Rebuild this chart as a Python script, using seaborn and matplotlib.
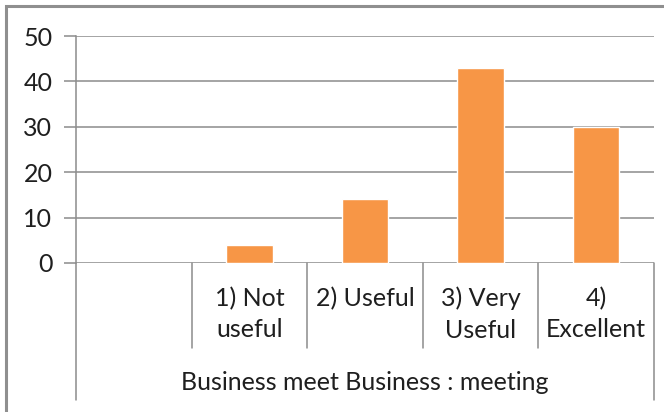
import numpy as np
import pandas as pd
import seaborn as sns
import matplotlib.pyplot as plt
from matplotlib.patches import Rectangle
from matplotlib.lines import Line2D

categories = ["", "1) Not\nuseful", "2) Useful", "3) Very\nUseful", "4)\nExcellent"]
rated = ["1) Not\nuseful", "2) Useful", "3) Very\nUseful", "4)\nExcellent"]
counts = [4, 14, 43, 30]
group_label = "Business meet Business : meeting"
y_ticks = [0, 10, 20, 30, 40, 50]

sns.set_theme(style="white")
plt.rcParams["font.family"] = ["Lato", "DejaVu Sans"]

W, H = 664, 412
fig = plt.figure(figsize=(W / 100, H / 100), dpi=100)
ax = fig.add_axes([76 / W, 149 / H, (654 - 76) / W, 227 / H])

df = pd.DataFrame({"rating": rated, "count": counts})
sns.barplot(data=df, x="rating", y="count", order=categories,
            color="#F79646", saturation=1, width=0.4, ax=ax)

grid_c = "#8C8C8C"
text_c = "#1F1F1F"
fs = 18
ax.set_ylim(0, 50)
ax.set_xlim(-0.5, len(categories) - 0.5)
ax.set_yticks(y_ticks)
ax.set_xticks(range(len(categories)), categories, linespacing=1.45)
ax.set_axisbelow(True)
ax.yaxis.grid(True, color=grid_c, linewidth=1.1)
ax.tick_params(axis="y", length=9, width=1.1, color=grid_c, pad=8,
               labelsize=fs, labelcolor=text_c, left=True)
ax.tick_params(axis="x", length=0, labelsize=fs, labelcolor=text_c, pad=17)
ax.set_xlabel("")
ax.set_ylabel("")
for s in ["top", "right", "bottom"]:
    ax.spines[s].set_visible(False)
ax.spines["left"].set_color(grid_c)
ax.spines["left"].set_linewidth(1.1)

# category separators below the zero line
tr = ax.get_xaxis_transform()
inner_bottom = -85 / 227
outer_bottom = -137 / 227
for i in range(1, len(categories)):
    xb = i - 0.5
    ax.add_line(Line2D([xb, xb], [0, inner_bottom], transform=tr,
                       color=grid_c, lw=1.1, clip_on=False))
for xb in [-0.5, len(categories) - 0.5]:
    ax.add_line(Line2D([xb, xb], [0, outer_bottom], transform=tr,
                       color=grid_c, lw=1.1, clip_on=False))

# outer group label
ax.text((len(categories) - 1) / 2, -119 / 227, group_label, transform=tr,
        ha="center", va="center", fontsize=fs, color=text_c)

# chart frame
fig.patches.append(Rectangle((6 / W, -0.2), 1.2, (406 / H) + 0.2,
                             transform=fig.transFigure, fill=False,
                             edgecolor="#8F8F8F", linewidth=2.2))

fig.savefig("out.png", dpi=100)
